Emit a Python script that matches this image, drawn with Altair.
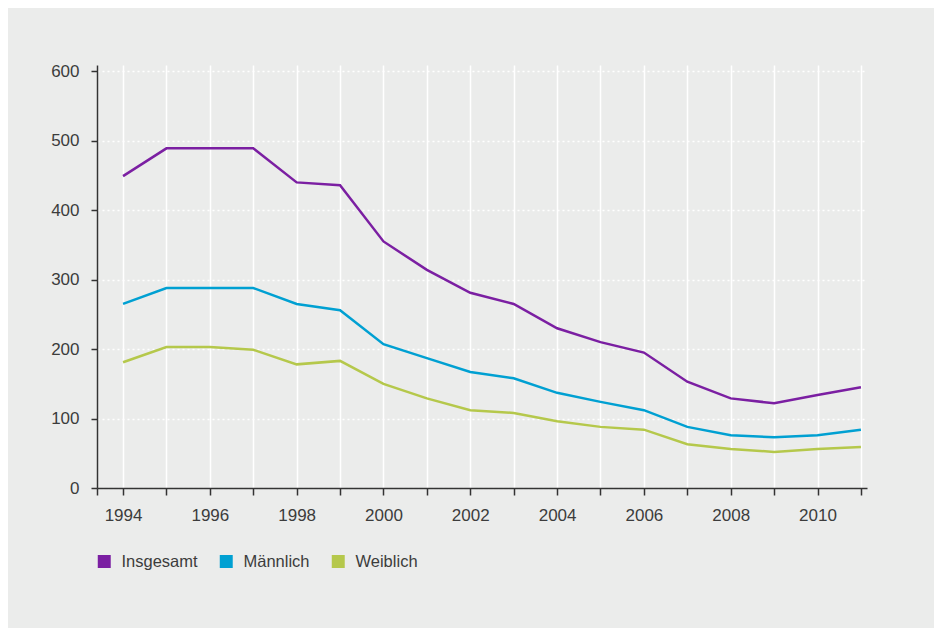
import altair as alt
import pandas as pd

years = list(range(1994, 2012))
insgesamt = [449, 489, 489, 489, 440, 436, 355, 314, 281, 265, 230, 210, 195, 153, 129, 122, 134, 145]
maennlich = [265, 288, 288, 288, 265, 256, 207, 187, 167, 158, 137, 124, 112, 88, 76, 73, 76, 84]
weiblich = [181, 203, 203, 199, 178, 183, 150, 129, 112, 108, 96, 88, 84, 63, 56, 52, 56, 59]
series = ["Insgesamt", "Männlich", "Weiblich"]
colors = ["#7b1fa2", "#00a0d2", "#b5c84b"]

rows = []
for name, vals in zip(series, [insgesamt, maennlich, weiblich]):
    for y, v in zip(years, vals):
        rows.append({"Jahr": y, "Wert": v, "Reihe": name})
df = pd.DataFrame(rows)

FONT = "Liberation Sans"
TXT = "#3c3c3c"

x_ticks = [1993.4] + years

chart = alt.Chart(df).mark_line(strokeWidth=2.5).encode(
    x=alt.X("Jahr:Q",
            scale=alt.Scale(domain=[1993.4, 2011.14], nice=False, zero=False),
            axis=alt.Axis(values=x_ticks, title=None,
                          labelExpr="(datum.value % 2 == 0) ? format(datum.value, 'd') : ''",
                          grid=True, gridColor="white", gridWidth=1.5,
                          domainColor="#333333", domainWidth=1.5,
                          tickColor="#333333", tickWidth=1.5, tickSize=7,
                          labelPadding=12, labelFontSize=17, labelColor=TXT,
                          labelFont=FONT)),
    y=alt.Y("Wert:Q",
            scale=alt.Scale(domain=[0, 609], nice=False),
            axis=alt.Axis(values=[0, 100, 200, 300, 400, 500, 600], title=None,
                          grid=True, gridColor="white", gridWidth=1.5,
                          gridDash=[2, 3],
                          domainColor="#333333", domainWidth=1.5,
                          tickColor="#333333", tickWidth=1.5, tickSize=6,
                          labelPadding=12, labelFontSize=17, labelColor=TXT,
                          labelFont=FONT)),
    color=alt.Color("Reihe:N",
                    scale=alt.Scale(domain=series, range=colors),
                    legend=alt.Legend(title=None, orient="none",
                                      legendX=-1, legendY=488,
                                      direction="horizontal", columns=3,
                                      symbolType="square", symbolSize=42,
                                      symbolStrokeWidth=6.5, symbolOpacity=1,
                                      labelFontSize=16.5, labelColor=TXT,
                                      labelFont=FONT, labelOffset=9,
                                      columnPadding=12)),
).properties(
    width=770, height=423,
    autosize=alt.AutoSizeParams(type="none"),
    padding={"left": 89, "top": 57, "right": 67, "bottom": 140},
    background="#ebeceb",
).configure_view(stroke=None, fill="#ebeceb")

chart.save("out.html", embed_options={"renderer": "svg", "actions": False})
